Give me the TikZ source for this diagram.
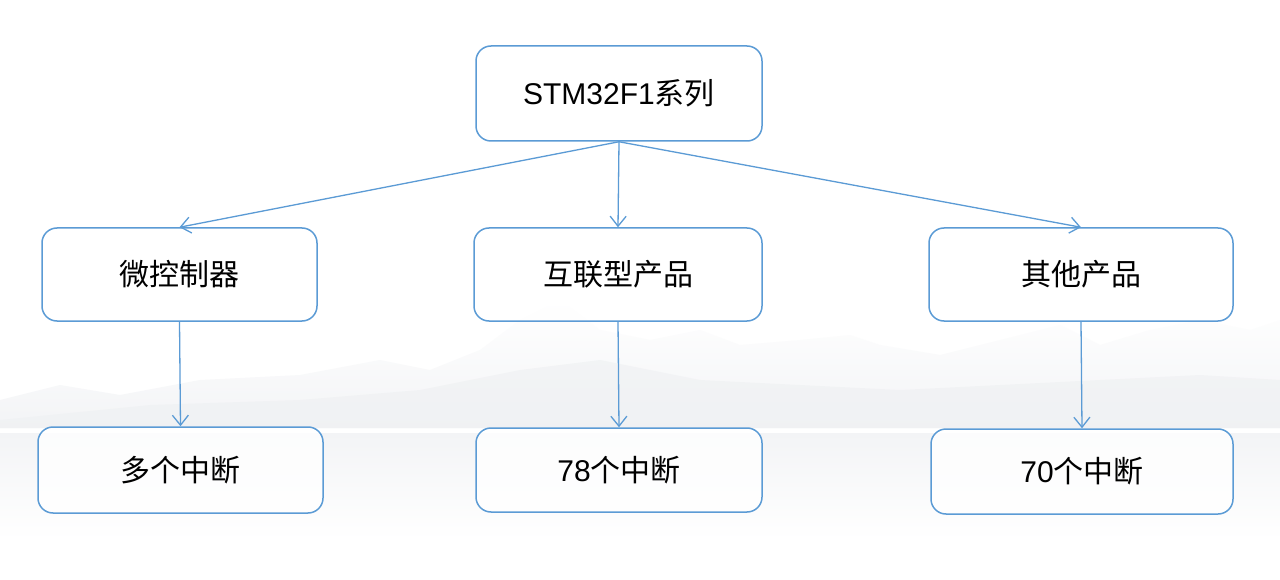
\documentclass[tikz,border=0pt]{standalone}
\usepackage{fontspec}
\setmainfont{Liberation Sans}
\newfontfamily\cjk{Noto Sans CJK SC}
\usetikzlibrary{arrows.meta}
\definecolor{edgeblue}{HTML}{5B9BD5}
\definecolor{mtn}{HTML}{F3F4F6}
\definecolor{mtndark}{HTML}{EEF0F2}
\tikzset{
  box/.style={draw=edgeblue, line width=1.5pt, rounded corners=15pt, fill=white, fill opacity=0.8, text opacity=1, inner sep=0pt, font=\fontsize{30}{33}\selectfont, text=black},
  conn/.style={draw=edgeblue, line width=1.3pt, -{Straight Barb[length=10pt,width=16pt]}}
}
\begin{document}
\begin{tikzpicture}[x=1pt,y=-1pt]
\useasboundingbox (0,0) rectangle (1280,580);
\fill[white] (0,0) rectangle (1280,580);
% faint mountain backdrop
\shade[top color=white, bottom color=mtn] (0,400) -- (60,385) -- (120,395) -- (200,380) -- (300,375) -- (380,360) -- (430,370) -- (480,350) -- (520,320) -- (560,300) -- (600,330) -- (650,340) -- (700,330) -- (740,345) -- (800,340) -- (850,335) -- (880,345) -- (940,355) -- (1000,340) -- (1060,325) -- (1100,345) -- (1150,330) -- (1200,320) -- (1250,330) -- (1280,320) -- (1280,428) -- (0,428) -- cycle;
\fill[mtndark, opacity=0.6] (0,420) -- (150,405) -- (300,400) -- (420,390) -- (520,370) -- (600,360) -- (700,380) -- (800,385) -- (900,390) -- (1000,385) -- (1100,380) -- (1200,375) -- (1280,380) -- (1280,428) -- (0,428) -- cycle;
\shade[top color=mtn, bottom color=white] (0,433) rectangle (1280,540);
% nodes
\node[box, minimum width=286pt, minimum height=95pt] (top) at (619,93.5) {STM32F1{\cjk 系列}};
\node[box, minimum width=275pt, minimum height=93pt] (a) at (179.5,274.5) {\cjk 微控制器};
\node[box, minimum width=288pt, minimum height=93pt] (b) at (618,274.5) {\cjk 互联型产品};
\node[box, minimum width=304pt, minimum height=93pt] (c) at (1081,274.5) {\cjk 其他产品};
\node[box, minimum width=285pt, minimum height=86pt] (d) at (180.5,470) {\cjk 多个中断};
\node[box, minimum width=286pt, minimum height=84pt] (e) at (619,470) {78{\cjk 个中断}};
\node[box, minimum width=302pt, minimum height=85pt] (f) at (1082,471.5) {70{\cjk 个中断}};
% connectors
\draw[conn] (top.south) -- (a.north);
\draw[conn] (top.south) -- (b.north);
\draw[conn] (top.south) -- (c.north);
\draw[conn] (a.south) -- (d.north);
\draw[conn] (b.south) -- (e.north);
\draw[conn] (c.south) -- (f.north);
\end{tikzpicture}
\end{document}
